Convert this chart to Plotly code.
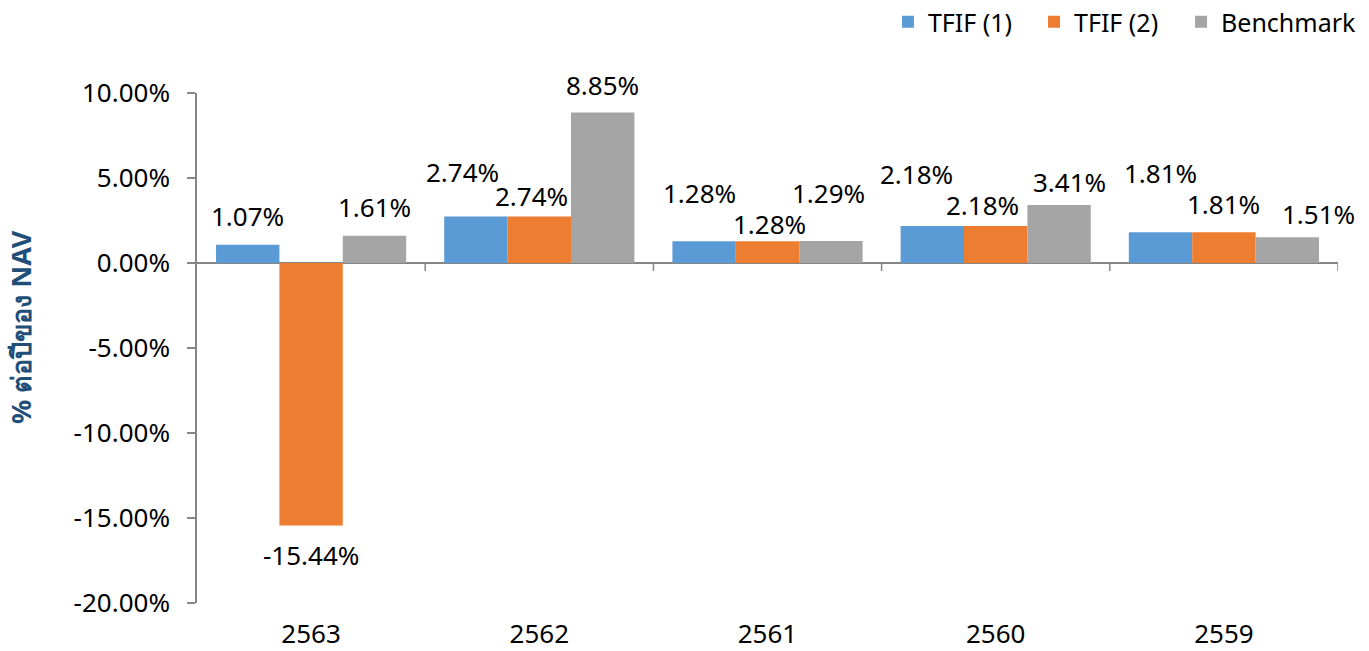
import plotly.graph_objects as go

categories = ["2563", "2562", "2561", "2560", "2559"]
tfif1 = [1.07, 2.74, 1.28, 2.18, 1.81]
tfif2 = [-15.44, 2.74, 1.28, 2.18, 1.81]
bench = [1.61, 8.85, 1.29, 3.41, 1.51]
series_names = ["TFIF (1)", "TFIF (2)", "Benchmark"]
y_ticks = [10, 5, 0, -5, -10, -15, -20]
y_tick_labels = ["10.00%", "5.00%", "0.00%", "-5.00%", "-10.00%", "-15.00%", "-20.00%"]
y_title = "% ต่อปีของ NAV"

colors = ["#5B9BD5", "#ED7D31", "#A5A5A5"]
# label placement tweaks (pixels): vertical distance of label centre from bar end, horizontal nudge
label_dy = [[29, 44, 48, 52, 59], [-30, 20, 17, 21, 28], [29, 28, 48, 23, 23]]
label_dx = [[0, -13, -5, -16, 0], [0, -8, 2, -13, 0], [0, 0, -2, 10, 31]]
legend_ids = ["legend", "legend2", "legend3"]
legend_x = [0.6486, 0.7553, 0.8627]

FONT = "Noto Sans, DejaVu Sans, sans-serif"
bargap = 1 / 6
bar_w = (1 - bargap) / 3

fig = go.Figure()
all_series = [tfif1, tfif2, bench]
for name, vals, col, lg in zip(series_names, all_series, colors, legend_ids):
    fig.add_trace(go.Bar(x=categories, y=vals, name=name, legend=lg,
                         marker=dict(color=col, line=dict(width=0))))

annotations = []
for s, vals in enumerate(all_series):
    for i, v in enumerate(vals):
        annotations.append(dict(
            x=i + (s - 1) * bar_w, y=v, xref="x", yref="y",
            text=f"{v:.2f}%", showarrow=False,
            xanchor="center", yanchor="middle",
            xshift=label_dx[s][i], yshift=label_dy[s][i],
            font=dict(family=FONT, size=26, color="#000000"),
        ))

# y-axis title (rotated text, centred slightly above the plot middle as in the original)
annotations.append(dict(
    x=0, y=0.541, xref="paper", yref="paper", text=y_title, showarrow=False,
    textangle=-90, xanchor="center", yanchor="middle", xshift=-177,
    font=dict(family=FONT, size=27, color="#1F4E79", weight="bold"),
))

shapes = []
for i in range(len(categories)):
    shapes.append(dict(
        type="line", xref="x", yref="y", x0=i + 0.5, x1=i + 0.5,
        ysizemode="pixel", yanchor=0, y0=0, y1=-8,
        line=dict(color="#868686", width=1.5),
    ))

legend_style = dict(orientation="h", xanchor="left", xref="container",
                    y=0.9662, yanchor="middle", yref="container",
                    font=dict(family=FONT, size=25, color="#000000"),
                    itemwidth=30, tracegroupgap=0, bgcolor="rgba(0,0,0,0)")

fig.update_layout(
    width=1369, height=651,
    margin=dict(l=197, r=31, t=93, b=48, autoexpand=False),
    paper_bgcolor="white", plot_bgcolor="white",
    barmode="group", bargap=bargap, bargroupgap=0,
    font=dict(family=FONT, size=26, color="#000000"),
    showlegend=True,
    annotations=annotations,
    shapes=shapes,
    xaxis=dict(type="category", showline=False, showgrid=False, zeroline=False, automargin=False,
               ticks="", tickfont=dict(family=FONT, size=26), ticklabelstandoff=13,
               range=[-0.5, 4.5]),
    yaxis=dict(range=[-20, 10], tickvals=y_ticks, ticktext=y_tick_labels, automargin=False,
               showgrid=False, showline=True, linecolor="#868686", linewidth=1.5,
               ticks="outside", ticklen=8, tickcolor="#868686", tickwidth=1.5,
               zeroline=True, zerolinecolor="#868686", zerolinewidth=1.5,
               tickfont=dict(family=FONT, size=26), ticklabelstandoff=12),
)
for lg, lx in zip(legend_ids, legend_x):
    fig.update_layout({lg: dict(legend_style, x=lx)})

# remove the browser's default 8px body margin so the figure fills the window exactly
fig.write_html("out.html", config={"displayModeBar": False},
               post_script="document.body.style.margin='0';document.body.style.overflow='hidden';")
